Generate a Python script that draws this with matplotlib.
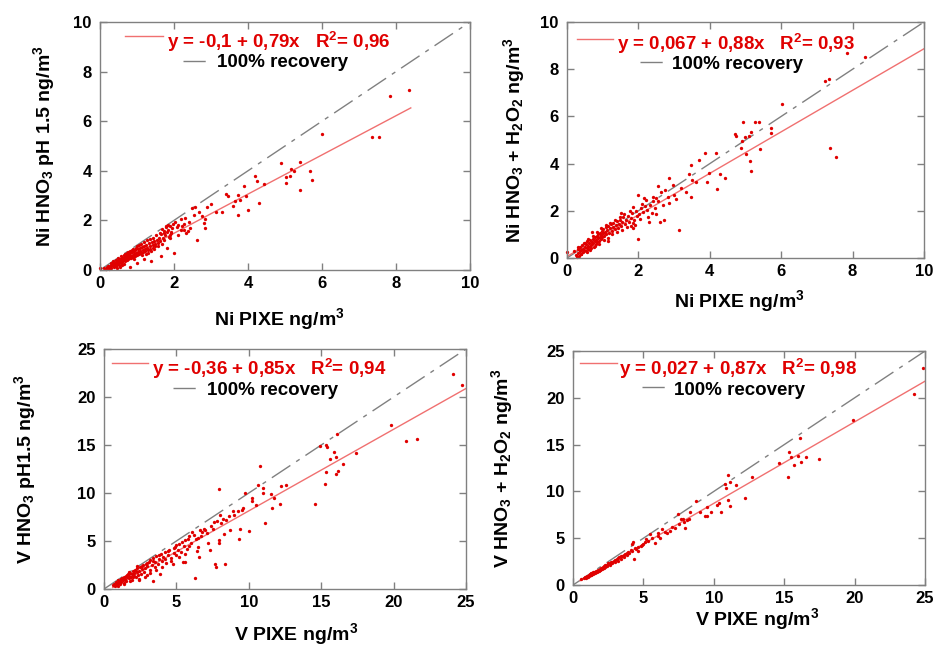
import matplotlib
matplotlib.use("Agg")
import matplotlib.pyplot as plt
import numpy as np

plt.rcParams['font.family'] = ['Liberation Sans', 'DejaVu Sans']
plt.rcParams['font.weight'] = 'bold'
plt.rcParams['mathtext.fontset'] = 'custom'
plt.rcParams['mathtext.rm'] = 'Liberation Sans:bold'
plt.rcParams['mathtext.it'] = 'Liberation Sans:bold'
plt.rcParams['mathtext.bf'] = 'Liberation Sans:bold'

# ---- data ----
# Ni, HNO3 pH 1.5 vs PIXE
ni_ph_x = [0.00, 0.12, 0.15, 0.18, 0.20, 0.22, 0.25, 0.26, 0.28, 0.30, 0.31, 0.33, 0.34, 0.36, 0.37, 0.38,
           0.40, 0.41, 0.43, 0.44, 0.45, 0.47, 0.48, 0.50, 0.51, 0.52, 0.54, 0.55, 0.56, 0.58, 0.59, 0.60,
           0.62, 0.63, 0.64, 0.66, 0.67, 0.68, 0.70, 0.71, 0.72, 0.74, 0.75, 0.77, 0.78, 0.79, 0.80, 0.81,
           0.82, 0.84, 0.85, 0.87, 0.88, 0.90, 0.91, 0.93, 0.95, 0.96, 0.98, 1.00, 1.02, 1.04, 1.05, 1.07,
           1.09, 1.11, 1.13, 1.15, 1.17, 1.19, 1.21, 1.23, 1.25, 1.28, 1.30, 1.32, 1.34, 1.36, 1.38, 1.40,
           1.42, 1.44, 1.46, 1.48, 1.50, 1.53, 1.56, 1.60, 1.63, 1.66, 1.70, 1.72, 1.75, 1.78, 1.80, 1.82,
           1.85, 1.88, 1.90, 1.93, 1.96, 2.00, 2.04, 2.08, 2.12, 2.18, 2.22, 2.27, 2.33, 2.38, 2.44, 1.64,
           1.87, 1.91, 1.73, 1.78,
           0.35, 0.42, 0.50, 0.57, 0.60, 0.65, 0.69, 0.73, 0.76, 0.80, 0.86, 0.90, 0.93, 0.97, 1.01, 1.06,
           1.10, 1.14, 1.18, 1.24, 1.27, 1.31, 1.35, 1.39, 1.43, 1.47, 1.52, 1.57, 1.62, 1.67, 1.69, 1.74,
           1.84, 1.90, 1.98, 2.10, 2.20, 2.26, 2.30, 2.40, 1.20, 1.00, 0.55, 0.30, 0.45,
           2.49, 2.58, 2.53, 2.67, 2.76, 2.63, 2.83, 2.82, 2.85, 2.89, 2.99, 3.13, 3.31, 3.40, 3.47, 3.60,
           3.66, 3.73, 3.78, 3.73, 3.88, 3.96, 4.00, 4.20, 4.24, 4.31, 4.44, 4.89, 5.02, 5.02, 5.14, 5.16,
           5.24, 5.40, 5.40, 5.67, 5.74, 6.01, 7.35, 7.53, 7.85, 8.34]
ni_ph_y = [0.08, 0.10, 0.04, 0.12, 0.08, 0.15, 0.06, 0.18, 0.12, 0.22, 0.10, 0.25, 0.16, 0.28, 0.20, 0.12,
           0.30, 0.22, 0.32, 0.18, 0.35, 0.26, 0.38, 0.30, 0.22, 0.42, 0.35, 0.46, 0.28, 0.40, 0.48, 0.33,
           0.50, 0.42, 0.26, 0.54, 0.45, 0.36, 0.58, 0.48, 0.40, 0.60, 0.52, 0.44, 0.65, 0.55, 0.12, 0.48,
           0.68, 0.58, 0.50, 0.72, 0.62, 0.54, 0.76, 0.66, 0.58, 0.80, 0.70, 0.62, 0.86, 0.74, 0.66, 0.90,
           0.78, 0.68, 0.94, 0.82, 0.72, 0.98, 0.86, 0.76, 1.02, 0.90, 0.80, 1.08, 0.95, 0.85, 0.36, 1.12,
           1.00, 0.90, 1.18, 1.05, 0.95, 1.22, 1.10, 1.30, 1.18, 1.45, 1.28, 1.58, 1.42, 1.74, 1.52, 0.88,
           1.62, 1.40, 1.78, 1.55, 1.68, 0.70, 1.92, 1.72, 1.82, 2.05, 1.76, 1.62, 1.50, 1.58, 1.68, 0.57,
           1.35, 1.49, 1.49, 1.76,
           0.35, 0.40, 0.48, 0.55, 0.20, 0.62, 0.65, 0.70, 0.73, 0.77, 0.80, 0.85, 0.45, 0.90, 0.96, 1.00,
           1.05, 0.60, 1.12, 0.65, 1.20, 0.70, 1.25, 0.78, 1.30, 0.85, 1.40, 0.95, 1.50, 1.05, 1.65, 1.20,
           1.80, 1.30, 1.85, 1.40, 1.60, 1.85, 2.10, 1.95, 0.45, 0.30, 0.12, 0.30, 0.10,
           2.49, 2.55, 2.22, 2.32, 2.19, 1.22, 2.05, 1.88, 1.69, 2.54, 2.68, 2.34, 2.34, 3.07, 2.97, 2.59,
           2.78, 3.03, 2.84, 2.23, 3.38, 3.00, 2.41, 3.78, 3.57, 2.70, 3.45, 4.32, 3.74, 3.51, 3.78, 4.09,
           3.99, 4.35, 3.24, 3.99, 3.62, 5.50, 5.38, 5.35, 7.03, 7.27]

# Ni, HNO3 + H2O2 vs PIXE
ni_h2o2_x = [0.00, 0.20, 0.25, 0.28, 0.30, 0.32, 0.34, 0.35, 0.37, 0.38, 0.40, 0.42, 0.44, 0.45, 0.47, 0.48,
             0.50, 0.52, 0.53, 0.55, 0.56, 0.58, 0.60, 0.61, 0.63, 0.64, 0.66, 0.68, 0.69, 0.70, 0.71, 0.73,
             0.74, 0.76, 0.77, 0.79, 0.80, 0.82, 0.83, 0.85, 0.86, 0.88, 0.89, 0.91, 0.92, 0.94, 0.95, 0.97,
             0.98, 1.00, 1.02, 1.04, 1.06, 1.08, 1.10, 1.12, 1.14, 1.16, 1.18, 1.20, 1.22, 1.25, 1.28, 1.30,
             1.33, 1.36, 1.40, 1.42, 1.45, 1.48, 1.50, 1.55, 1.58, 1.62, 1.65, 1.70, 1.74, 1.78, 1.80, 1.82,
             1.84, 1.86, 1.88, 1.92, 1.95, 1.98, 2.00, 2.02, 2.06, 2.10, 2.14, 2.18, 2.22, 2.25, 2.30, 2.32,
             2.38, 2.42, 2.46, 2.50, 2.54, 2.60, 2.63, 2.73, 2.82, 2.85, 2.87, 2.98, 3.00, 3.05, 3.13, 3.20,
             3.33, 3.42, 3.47, 3.47, 3.50, 3.61, 3.70, 3.87, 3.92, 3.98, 4.17, 4.21, 4.28, 4.43, 4.71, 4.72,
             4.86, 4.91, 4.93, 4.99, 5.02, 5.10, 5.13, 5.15, 5.16, 5.26, 5.38, 5.40, 5.70, 5.72, 6.01, 7.24,
             7.33, 7.36, 7.53, 7.85, 8.35,
             0.30, 0.40, 0.50, 0.55, 0.60, 0.65, 0.72, 0.78, 0.84, 0.90, 0.96, 1.03, 1.09, 1.15, 1.21, 1.27,
             1.34, 1.40, 1.47, 1.53, 1.60, 1.68, 1.76, 1.90, 2.05, 2.15, 2.28, 2.40, 2.48, 2.56, 2.68, 2.75,
             1.85, 1.50]
ni_h2o2_y = [0.25, 0.30, 0.12, 0.05, 0.20, 0.38, 0.10, 0.28, 0.45, 0.18, 0.32, 0.55, 0.25, 0.40, 0.62, 0.35,
             0.48, 0.30, 0.58, 0.42, 0.70, 0.50, 0.38, 0.62, 0.48, 0.75, 0.55, 0.42, 0.68, 1.12, 0.58, 0.80,
             0.62, 0.48, 0.72, 0.88, 0.60, 0.78, 0.95, 0.68, 0.85, 1.02, 0.72, 0.90, 1.08, 0.80, 0.98, 1.15,
             0.88, 1.05, 1.22, 0.92, 1.12, 1.30, 1.00, 1.18, 0.70, 1.35, 1.08, 1.25, 1.42, 1.15, 1.32, 1.48,
             1.22, 1.40, 1.55, 1.28, 1.45, 1.62, 1.35, 1.52, 1.72, 1.45, 1.62, 1.80, 1.52, 1.70, 1.35, 1.92,
             1.50, 1.25, 1.62, 1.98, 1.80, 0.82, 2.65, 1.85, 2.10, 2.30, 1.95, 2.20, 2.45, 2.05, 1.52, 2.25,
             1.90, 2.40, 2.10, 2.55, 3.05, 1.51, 2.81, 1.63, 2.59, 2.35, 3.38, 3.09, 2.66, 2.52, 1.18, 2.95,
             2.81, 3.57, 3.96, 2.59, 3.31, 3.24, 4.17, 4.46, 3.24, 3.60, 4.43, 2.92, 3.55, 3.41, 5.25, 5.18,
             4.68, 4.94, 5.77, 5.11, 4.42, 5.18, 4.10, 5.32, 3.70, 5.77, 5.77, 4.63, 5.51, 5.28, 6.52, 7.52,
             7.58, 4.68, 4.27, 8.70, 8.50,
             0.45, 0.15, 0.65, 0.25, 0.80, 0.35, 0.95, 0.50, 1.10, 0.60, 1.25, 0.75, 1.40, 0.85, 1.50, 1.00,
             1.60, 1.10, 1.75, 1.20, 1.85, 1.30, 2.00, 1.40, 1.65, 2.55, 1.75, 2.60, 1.85, 2.40, 2.25, 2.90,
             2.15, 1.90]

# V, HNO3 pH 1.5 vs PIXE
v_ph_x = [0.65, 0.70, 0.75, 0.80, 0.85, 0.90, 0.95, 1.00, 1.05, 1.10, 1.15, 1.20, 1.25, 1.30, 1.35, 1.40,
          1.45, 1.50, 1.55, 1.60, 1.65, 1.70, 1.75, 1.80, 1.85, 1.90, 1.95, 2.00, 2.05, 2.10, 2.15, 2.20,
          2.25, 2.30, 2.35, 2.40, 2.45, 2.50, 2.55, 2.60, 2.70, 2.75, 2.80, 2.90, 2.95, 3.00, 3.10, 3.15,
          3.20, 3.30, 3.39, 3.40, 3.50, 3.55, 3.60, 3.70, 3.80, 3.90, 3.95, 4.00, 4.10, 4.20, 4.30, 4.40,
          4.50, 4.60, 4.77, 4.80, 4.90, 5.00, 5.10, 5.20, 5.30, 5.46, 5.50, 5.58, 5.60, 5.75, 5.85, 6.00,
          6.10, 6.27, 6.35, 6.50, 6.57, 6.60, 6.70, 6.90, 7.10, 7.30, 7.40, 7.60, 7.65, 7.76, 7.93, 7.93,
          7.95, 8.00, 8.11, 8.27, 8.36, 8.41, 8.73, 8.92, 9.26, 9.33, 9.38, 9.50, 9.77, 10.00, 10.23, 10.23,
          10.48, 10.62, 10.80, 11.00, 11.00, 11.10, 11.52, 11.63, 11.75, 12.14, 12.20, 12.60, 14.58, 14.90,
          15.25, 15.30, 15.30, 15.37, 15.60, 15.90, 16.00, 16.00, 16.10, 16.14, 16.50, 17.37, 19.80, 20.85,
          21.60, 24.08, 24.70,
          1.00, 1.20, 1.40, 1.60, 1.80, 2.00, 2.20, 2.40, 2.60, 2.80, 3.00, 3.20, 3.40, 3.60, 3.80, 4.00,
          4.20, 4.40, 4.60, 4.80, 5.00, 5.20, 5.40, 5.60, 5.80, 6.20, 6.40, 6.80, 7.00, 7.20, 7.50, 7.80,
          8.20, 8.60, 9.00, 9.60, 6.50, 5.90, 1.70, 2.30]
v_ph_y = [0.40, 0.55, 0.35, 0.50, 0.70, 0.45, 0.90, 0.60, 0.80, 0.50, 1.00, 0.75, 1.15, 0.90, 0.65, 1.20,
          1.00, 1.40, 0.85, 1.25, 1.55, 1.10, 1.40, 1.70, 1.25, 1.55, 0.95, 1.85, 1.40, 1.65, 2.00, 1.20,
          1.75, 2.20, 1.50, 1.90, 0.90, 2.30, 1.60, 2.05, 2.50, 1.80, 2.20, 2.65, 1.45, 2.40, 2.80, 2.00,
          3.00, 2.55, 0.88, 3.20, 2.25, 2.85, 3.40, 2.60, 3.10, 1.55, 3.60, 2.90, 3.35, 3.90, 2.75, 3.55,
          4.10, 3.20, 2.64, 3.80, 4.40, 3.50, 4.10, 4.70, 3.90, 2.82, 4.50, 2.78, 5.10, 4.20, 5.50, 4.80,
          5.90, 1.16, 5.20, 4.40, 3.35, 6.16, 5.50, 6.30, 5.80, 4.05, 6.60, 7.00, 2.64, 2.29, 10.40, 5.10,
          4.75, 7.75, 6.87, 5.74, 2.57, 7.22, 6.16, 8.10, 8.10, 5.21, 6.27, 8.27, 10.03, 6.09, 9.50, 9.15,
          8.70, 10.85, 12.85, 10.00, 10.56, 6.87, 9.93, 8.45, 9.50, 8.90, 10.74, 10.88, 8.87, 14.90,
          10.90, 15.00, 12.15, 14.80, 13.55, 14.30, 13.70, 11.97, 16.13, 12.30, 13.00, 14.19, 17.10, 15.40,
          15.60, 22.36, 21.30,
          0.35, 1.05, 0.50, 1.50, 0.80, 1.30, 1.90, 1.05, 2.35, 1.30, 2.75, 1.70, 2.90, 2.00, 3.50, 2.30,
          3.10, 4.00, 2.90, 4.30, 4.60, 3.30, 4.90, 3.60, 5.20, 5.60, 4.00, 5.90, 6.10, 4.80, 6.20, 7.10,
          7.30, 7.60, 7.70, 8.40, 5.30, 4.50, 1.80, 2.40]

# V, HNO3 + H2O2 vs PIXE
v_h2o2_x = [0.60, 0.75, 0.85, 0.95, 1.00, 1.05, 1.10, 1.15, 1.20, 1.25, 1.30, 1.35, 1.40, 1.45, 1.50, 1.55,
            1.60, 1.65, 1.70, 1.75, 1.80, 1.85, 1.90, 1.95, 2.00, 2.05, 2.10, 2.15, 2.20, 2.25, 2.30, 2.40,
            2.50, 2.60, 2.70, 2.80, 2.90, 3.00, 3.10, 3.20, 3.30, 3.40, 3.50, 3.60, 3.70, 3.80, 3.90, 4.00,
            4.10, 4.17, 4.29, 4.36, 4.40, 4.50, 4.64, 4.80, 5.00, 5.10, 5.20, 5.48, 5.83, 6.07, 6.19, 6.31,
            6.67, 6.90, 7.26, 7.43, 7.55, 7.69, 7.90, 7.98, 8.21, 8.33, 8.76, 9.05, 9.36, 9.52, 9.52, 9.81,
            10.24, 10.36, 10.48, 10.79, 10.86, 11.00, 11.02, 11.14, 11.14, 11.55, 12.20, 12.70, 14.64, 15.30,
            15.36, 15.50, 15.70, 15.95, 16.10, 16.20, 16.57, 17.45, 19.90, 24.20, 24.88,
            1.20, 1.40, 1.60, 1.80, 2.00, 2.20, 2.40, 2.60, 2.80, 3.00, 3.20, 3.40, 3.60, 3.80, 4.20, 4.60,
            4.90, 5.30, 5.60, 6.00, 6.50, 7.00, 7.80, 8.10, 1.70, 1.90, 2.10, 1.50, 1.30, 2.35]
v_h2o2_y = [0.65, 0.70, 0.85, 0.80, 1.00, 0.90, 1.10, 0.95, 1.20, 1.05, 1.30, 1.15, 1.35, 1.20, 1.40, 1.30,
            1.50, 1.35, 1.55, 1.45, 1.65, 1.50, 1.75, 1.60, 1.85, 1.70, 1.95, 1.80, 2.05, 1.90, 2.15, 2.00,
            2.30, 2.15, 2.45, 2.30, 2.60, 2.45, 2.75, 2.60, 3.00, 2.80, 3.10, 2.95, 3.30, 3.20, 3.55, 3.40,
            3.75, 4.36, 4.60, 2.75, 4.00, 3.90, 3.64, 4.20, 4.36, 4.60, 4.90, 5.43, 4.54, 5.60, 5.07, 5.96,
            5.60, 5.79, 6.14, 7.64, 6.50, 7.04, 6.68, 6.14, 7.04, 7.75, 9.00, 7.75, 7.32, 8.36, 7.39, 7.75,
            8.57, 8.71, 7.75, 10.79, 10.32, 11.75, 9.07, 10.96, 8.39, 10.64, 9.29, 11.57, 13.00, 11.50,
            14.18, 13.70, 12.80, 13.80, 15.70, 13.10, 13.70, 13.50, 17.60, 20.40, 23.20,
            1.05, 1.25, 1.38, 1.55, 1.70, 1.85, 2.15, 2.30, 2.50, 2.70, 2.85, 3.05, 3.20, 3.40, 3.60, 4.10,
            4.30, 4.70, 5.00, 5.20, 5.70, 6.20, 7.00, 6.90, 1.40, 1.60, 1.80, 1.25, 1.10, 2.00]

# regression (intercept, slope) and fitted x-range, from the legends
fit_a = [-0.1, 0.067, -0.36, 0.027]
fit_b = [0.79, 0.88, 0.85, 0.87]
fit_lo = [0.1, 0.0, 0.6, 0.5]
fit_hi = [8.4, 10.0, 25.0, 25.0]
fit_text = ["y = -0,1 + 0,79x   R$^2$= 0,96",
            "y = 0,067 + 0,88x   R$^2$= 0,93",
            "y = -0,36 + 0,85x   R$^2$= 0,94",
            "y = 0,027 + 0,87x   R$^2$= 0,98"]
xlabels = ["Ni PIXE ng/m$^3$", "Ni PIXE ng/m$^3$", "V PIXE ng/m$^3$", "V PIXE ng/m$^3$"]
ylabels = ["Ni HNO$_3$ pH 1.5 ng/m$^3$",
           "Ni HNO$_3$ + H$_2$O$_2$ ng/m$^3$",
           "V HNO$_3$ pH1.5 ng/m$^3$",
           "V HNO$_3$ + H$_2$O$_2$ ng/m$^3$"]
axmax = [10, 10, 25, 25]
tickstep = [2, 2, 5, 5]

xs = [ni_ph_x, ni_h2o2_x, v_ph_x, v_h2o2_x]
ys = [ni_ph_y, ni_h2o2_y, v_ph_y, v_h2o2_y]

# panel placement (figure fractions) and label / legend positions (axes fractions)
rects = [[0.1068, 0.5814, 0.3953, 0.3845],
         [0.6058, 0.6000, 0.3814, 0.3659],
         [0.1111, 0.0868, 0.3868, 0.3721],
         [0.6122, 0.0930, 0.3761, 0.3628]]
xlab_pos = [(0.486, -0.145), (0.482, -0.128), (0.530, -0.133), (0.523, -0.088)]
ylab_pos = [(-0.116, 0.5), (-0.112, 0.5), (-0.182, 0.5), (-0.165, 0.5)]
leg = [  # red sample x0, x1, y ; text x, y ; grey sample x0, x1, y ; text x, y
    (0.068, 0.170, 0.944, 0.181, 0.918, 0.224, 0.297, 0.843, 0.316, 0.836),
    (0.028, 0.129, 0.928, 0.140, 0.906, 0.204, 0.275, 0.830, 0.294, 0.819),
    (0.022, 0.122, 0.942, 0.133, 0.915, 0.190, 0.265, 0.837, 0.284, 0.826),
    (0.020, 0.125, 0.949, 0.131, 0.922, 0.196, 0.270, 0.846, 0.287, 0.830),
]

red = '#e00000'
fitred = '#f07070'
grey = '#808080'

fig = plt.figure(figsize=(9.36, 6.45), dpi=100)
for i in range(4):
    ax = fig.add_axes(rects[i])
    m = axmax[i]
    # 100% recovery line
    ax.plot([0, m], [0, m], color=grey, lw=1, dashes=(16, 5, 3, 5))
    # fit line
    fx = np.array([fit_lo[i], fit_hi[i]])
    ax.plot(fx, fit_a[i] + fit_b[i] * fx, color=fitred, lw=1)
    # data
    ax.plot(xs[i], ys[i], 'o', ms=2.4, color=red, mec='none', clip_on=False)

    ax.set_xlim(0, m)
    ax.set_ylim(0, m)
    ticks = np.arange(0, m + 0.1, tickstep[i])
    ax.set_xticks(ticks)
    ax.set_yticks(ticks)
    ax.set_xticklabels([str(int(t)) for t in ticks])
    ax.set_yticklabels([str(int(t)) for t in ticks])
    ax.tick_params(direction='in', length=5, width=1, color=grey, top=True, right=True,
                   labelsize=12)
    ax.tick_params(axis='x', pad=4)
    ax.tick_params(axis='y', pad=6)
    for s in ax.spines.values():
        s.set_color(grey)
        s.set_linewidth(1)

    ax.set_xlabel(xlabels[i], fontsize=14, fontweight='bold')
    ax.set_ylabel(ylabels[i], fontsize=14, fontweight='bold')
    ax.xaxis.set_label_coords(*xlab_pos[i])
    ax.yaxis.set_label_coords(*ylab_pos[i])

    # legend drawn by hand
    L = leg[i]
    ax.plot([L[0], L[1]], [L[2], L[2]], color=fitred, lw=1, transform=ax.transAxes, clip_on=False)
    ax.text(L[3], L[4], fit_text[i], transform=ax.transAxes, color=red, fontsize=13.5,
            fontweight='bold', va='center', ha='left')
    ax.plot([L[5], L[6]], [L[7], L[7]], color=grey, lw=1, dashes=(16, 5, 3, 5),
            transform=ax.transAxes, clip_on=False)
    ax.text(L[8], L[9], "100% recovery", transform=ax.transAxes, color='black', fontsize=13.5,
            fontweight='bold', va='center', ha='left')

fig.savefig("out.png", dpi=100)
plt.close(fig)
